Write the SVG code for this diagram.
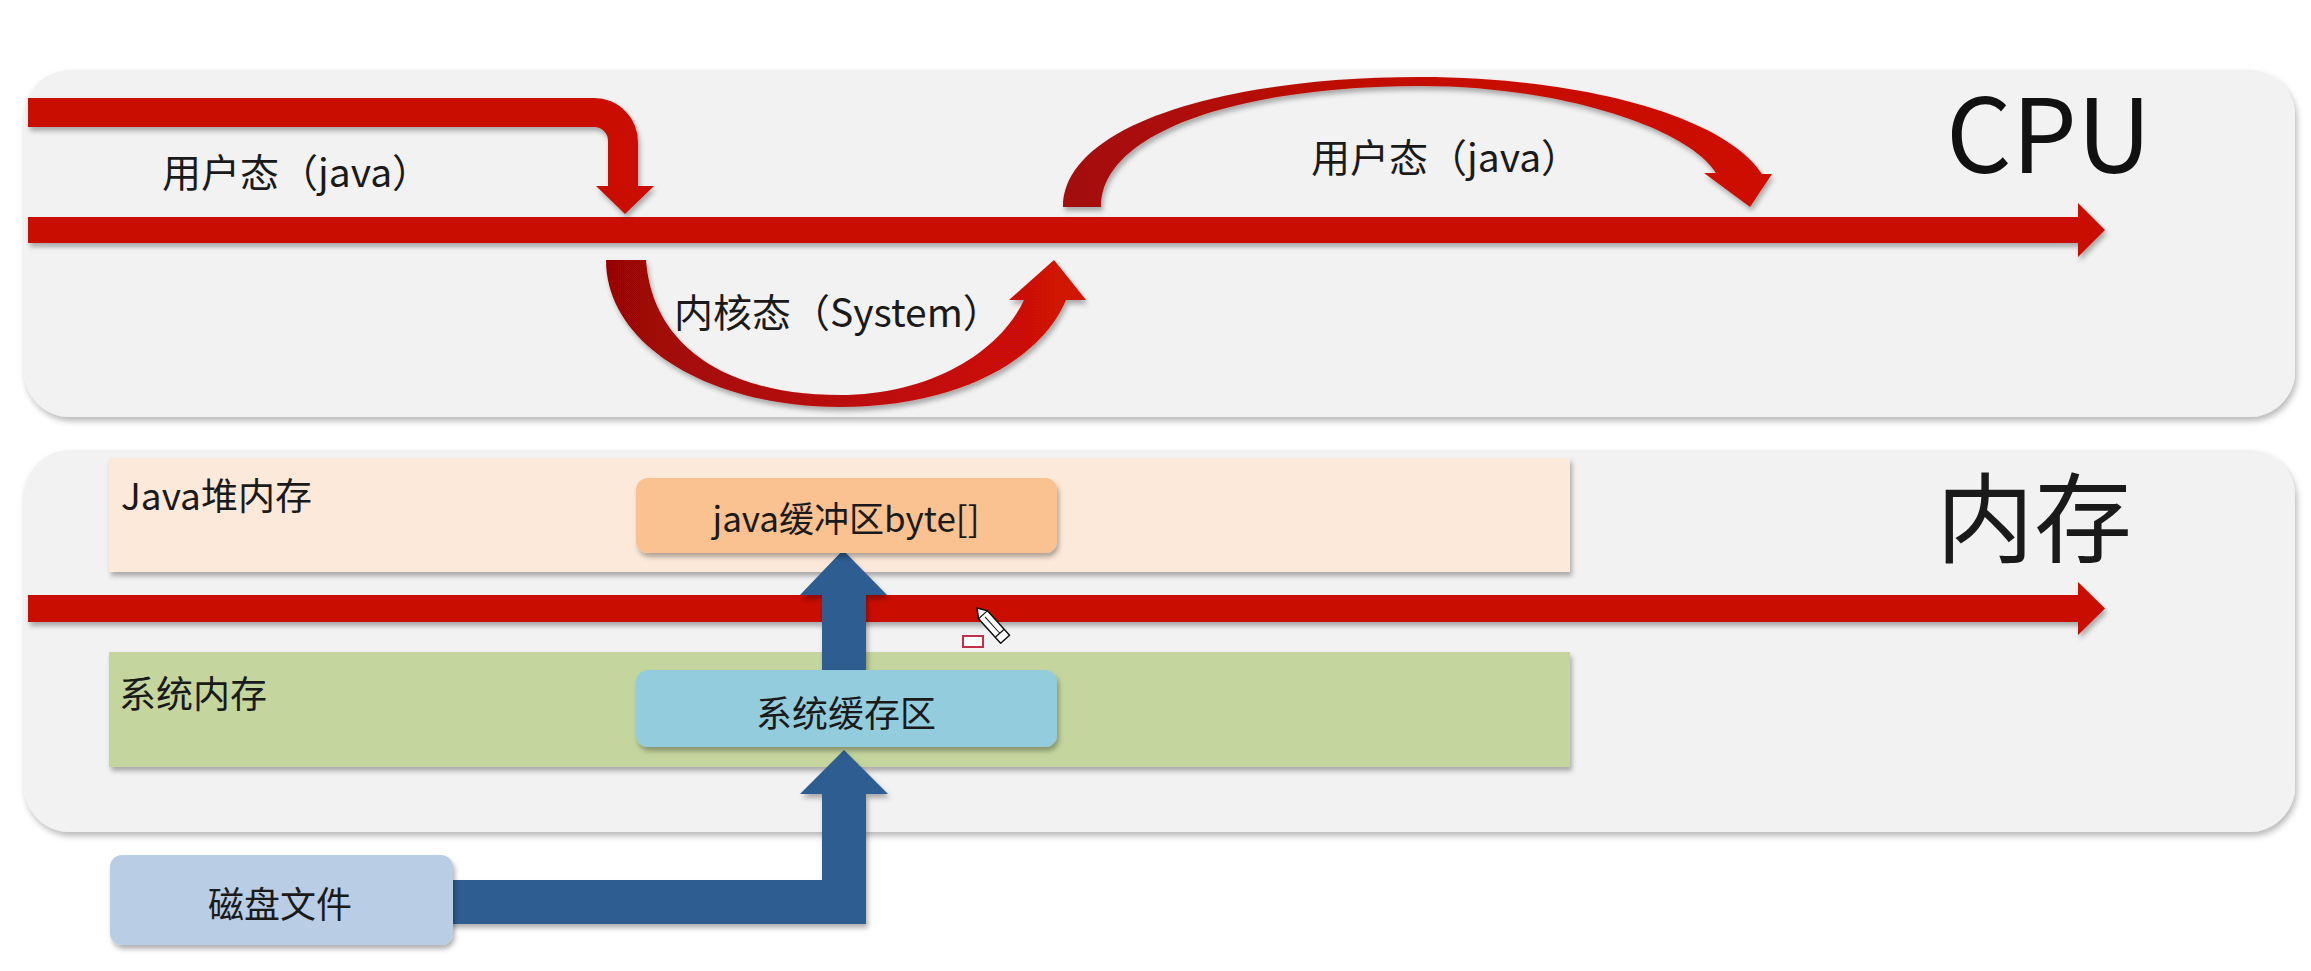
<svg xmlns="http://www.w3.org/2000/svg" width="2311" height="971" viewBox="0 0 2311 971">
  <defs>
    <style>
      .panel { fill: #f2f2f2; }
      .lbl { font-family: "Noto Sans CJK SC", "Noto Sans", sans-serif; fill: #1a1a1a; dominant-baseline: central; }
      .title { font-family: "Noto Sans CJK SC", "Noto Sans", sans-serif; fill: #111111; }
      .red { fill: #c90f02; }
      .blue { fill: #2f5d91; }
      .box { rx: 12; ry: 12; }
    </style>
    <filter id="panelShadow" x="-2%" y="-5%" width="104%" height="115%">
      <feDropShadow dx="2" dy="4" stdDeviation="3" flood-color="#000" flood-opacity="0.28"/>
    </filter>
    <filter id="shapeShadow" x="-5%" y="-30%" width="110%" height="180%">
      <feDropShadow dx="2" dy="4" stdDeviation="2.5" flood-color="#000" flood-opacity="0.3"/>
    </filter>
    <linearGradient id="kernelGrad" gradientUnits="userSpaceOnUse" x1="606" y1="0" x2="1086" y2="0">
      <stop offset="0" stop-color="#9a0606"/>
      <stop offset="0.45" stop-color="#b80a08"/>
      <stop offset="1" stop-color="#d21306"/>
    </linearGradient>
    <linearGradient id="userGrad" gradientUnits="userSpaceOnUse" x1="1063" y1="0" x2="1772" y2="0">
      <stop offset="0" stop-color="#a30808"/>
      <stop offset="0.5" stop-color="#c40e05"/>
      <stop offset="1" stop-color="#cd1104"/>
    </linearGradient>
  </defs>

  <rect width="2311" height="971" fill="#ffffff"/>

  <!-- CPU panel -->
  <g id="cpu-panel">
    <rect class="panel" x="24" y="70" width="2271" height="347" rx="46" ry="46" filter="url(#panelShadow)"/>
    <text class="title" x="1946" y="173" font-size="103">CPU</text>
  </g>

  <!-- memory panel -->
  <g id="memory-panel">
    <rect class="panel" x="24" y="450" width="2271" height="382" rx="46" ry="46" filter="url(#panelShadow)"/>
    <text class="lbl" x="1936" y="512" font-size="98">内存</text>
  </g>

  <g id="java-heap">
    <rect x="109" y="458" width="1461" height="114" fill="#fde9d9" filter="url(#shapeShadow)"/>
    <text class="lbl" x="121" y="494" font-size="37">Java堆内存</text>
  </g>

  <g id="system-memory">
    <rect x="109" y="652" width="1461" height="115" fill="#c4d59d" filter="url(#shapeShadow)"/>
    <text class="lbl" x="119" y="692" font-size="37">系统内存</text>
  </g>

  <!-- execution flow in the CPU -->
  <g id="cpu-flow">
    <path class="red" filter="url(#shapeShadow)" d="M 28 217 L 2078 217 L 2078 203 L 2105 230 L 2078 257 L 2078 243 L 28 243 Z"/>
    <path class="red" filter="url(#shapeShadow)" d="M 28 98 L 594 98 A 44 44 0 0 1 638 142 L 638 186 L 654 186 L 625 214 L 596 186 L 608 186 L 608 141 A 14 14 0 0 0 594 127 L 28 127 Z"/>
    <path fill="url(#kernelGrad)" filter="url(#shapeShadow)" d="M 606 260 C 606 345 710 407 840 407 C 955 407 1040 362 1066 300 L 1086 300 L 1054 260 L 1009 300 L 1024 300 C 1000 352 930 395 840 395 C 725 395 652 345 646 260 Z"/>
    <path fill="url(#userGrad)" filter="url(#shapeShadow)" d="M 1063 207 C 1063 125 1225 77 1420 77 C 1580 77 1725 116 1762 174 L 1772 174 L 1750 207 L 1704 173 L 1716 173 C 1688 128 1560 86 1420 86 C 1245 86 1101 130 1101 207 Z"/>
    <text class="lbl" x="162" y="170" font-size="39">用户态（java）</text>
    <text class="lbl" x="674" y="310" font-size="39">内核态（System）</text>
    <text class="lbl" x="1311" y="155" font-size="39">用户态（java）</text>
  </g>

  <!-- execution flow in memory -->
  <g id="memory-flow">
    <path class="red" filter="url(#shapeShadow)" d="M 28 595 L 2078 595 L 2078 582 L 2105 608.5 L 2078 635 L 2078 622 L 28 622 Z"/>
  </g>

  <!-- data path: disk -> system cache -> java buffer -->
  <g id="connectors">
    <path class="blue" filter="url(#shapeShadow)" d="M 822 670 L 822 595 L 800 595 L 843 550 L 887 595 L 866 595 L 866 670 Z"/>
    <path class="blue" filter="url(#shapeShadow)" d="M 440 880 L 822 880 L 822 794 L 800 794 L 844 750 L 888 794 L 866 794 L 866 924 L 440 924 Z"/>
  </g>

  <g id="java-buffer">
    <rect class="box" x="636" y="478" width="421" height="75" fill="#fac191" filter="url(#shapeShadow)"/>
    <text class="lbl" x="846" y="516" font-size="35" text-anchor="middle">java缓冲区byte[]</text>
  </g>

  <g id="system-cache">
    <rect class="box" x="636" y="670" width="421" height="77" fill="#93cddd" filter="url(#shapeShadow)"/>
    <text class="lbl" x="846" y="711" font-size="36" text-anchor="middle">系统缓存区</text>
  </g>

  <g id="disk-file">
    <rect class="box" x="110" y="855" width="343" height="90" fill="#b9cde5" filter="url(#shapeShadow)"/>
    <text class="lbl" x="280" y="902" font-size="36" text-anchor="middle">磁盘文件</text>
  </g>

  <!-- pen cursor and its small marker -->
  <g id="cursor">
    <rect x="963" y="636" width="20" height="11" fill="#ffffff" stroke="#c0304a" stroke-width="2"/>
    <g transform="translate(977 608) rotate(48)">
      <polygon points="0,0 9,-6 42,-6 42,6 9,6" fill="#ffffff" stroke="#111111" stroke-width="1.5" stroke-linejoin="round"/>
      <line x1="9" y1="-6" x2="9" y2="6" stroke="#111111" stroke-width="1.2"/>
      <line x1="34" y1="-6" x2="34" y2="6" stroke="#111111" stroke-width="1.2"/>
      <line x1="12" y1="0" x2="34" y2="0" stroke="#111111" stroke-width="1"/>
    </g>
  </g>
</svg>
